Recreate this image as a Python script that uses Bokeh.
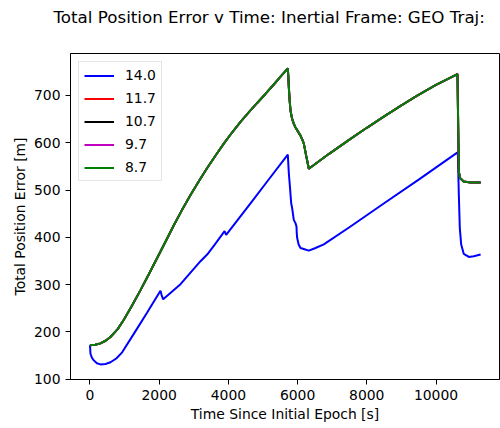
from bokeh.plotting import figure
from bokeh.models import Range1d, FixedTicker, Title
from bokeh.embed import file_html
from bokeh.resources import INLINE

# Time samples [s] and total position error [m] for the 14.0 case
t_14_0 = [0, 14, 60, 110, 200, 303, 450, 592, 760, 930, 1266, 1653, 2037, 2070,
          2115, 2616, 3194, 3387, 3600, 3890, 3935, 4639, 5121, 5717, 5747, 5775,
          5815, 5844, 5890, 5939, 5968, 5975, 5988, 6030, 6084, 6200, 6325, 6500,
          6757, 7529, 8500, 9500, 10613, 10630, 10660, 10688, 10728, 10803, 10948,
          11092, 11290]
err_14_0 = [172, 154, 145, 140, 134, 131.5, 132.5, 136, 144, 157, 196, 241, 287, 278,
            269, 301, 349.6, 363.7, 384, 413, 405, 472, 518, 575, 535, 510,
            472, 461, 437, 430, 423, 410, 398.5, 385, 377.5, 375, 372, 377,
            385, 423, 472, 522, 579, 580, 489.5, 419.5, 384.7, 365, 358.7,
            360, 363.7]

# The 11.7, 10.7, 9.7 and 8.7 cases follow the same error history
t_low = [0, 150, 303, 450, 592, 800, 978, 1200, 1460, 1700, 1942, 2200, 2423, 2650,
         2905, 3150, 3387, 3620, 3867, 4100, 4350, 4600, 4832, 5070, 5313, 5500,
         5717, 5732, 5747, 5770, 5795, 5840, 5890, 5940, 6000, 6084, 6140, 6180,
         6250, 6325, 6900, 7529, 8000, 8491, 9000, 9457, 10000, 10621, 10640,
         10660, 10700, 10800, 11000, 11290]
err_low = [172, 173, 176, 181.5, 189.5, 206, 226, 254, 288.5, 322, 356.5, 393.5, 425.5, 456.5,
           489.5, 519, 546.5, 572, 598, 621, 644, 665, 684, 703, 723, 739,
           757, 740, 717, 690, 668, 651, 640, 632, 625, 615, 606, 598,
           572, 545, 576, 608, 631.5, 655, 679, 699.5, 722, 745, 640,
           538, 525, 518, 516, 516]

series_labels = ["14.0", "11.7", "10.7", "9.7", "8.7"]
series_colors = ["#0000ff", "#ff0000", "#000000", "#bf00bf", "#008000"]
series_t = [t_14_0, t_low, t_low, t_low, t_low]
series_err = [err_14_0, err_low, err_low, err_low, err_low]

x_ticks = [0, 2000, 4000, 6000, 8000, 10000]
y_ticks = [100, 200, 300, 400, 500, 600, 700]

FONT = "DejaVu Sans"

p = figure(width=500, height=428, output_backend="svg", toolbar_location=None,
           x_range=Range1d(-563, 11835), y_range=Range1d(99.6, 788.5),
           min_border_left=70, min_border_right=1, min_border_top=51,
           min_border_bottom=49)

p.title = Title(text="Total Position Error v Time: Inertial Frame: GEO Traj:",
                align="left", offset=-17, standoff=8,
                text_font=FONT, text_font_size="16.7px",
                text_font_style="normal", text_color="#000000")

# blank gap between the title and the top of the frame
p.add_layout(Title(text=" ", text_font_size="1px", standoff=20), "above")

for lbl, col, tt, ee in zip(series_labels, series_colors, series_t, series_err):
    p.line(tt, ee, line_color=col, line_width=2, legend_label=lbl)

p.xgrid.visible = False
p.ygrid.visible = False
p.outline_line_color = "#000000"
p.outline_line_width = 1
p.background_fill_color = "white"
p.border_fill_color = "white"

p.xaxis.ticker = FixedTicker(ticks=x_ticks)
p.yaxis.ticker = FixedTicker(ticks=y_ticks)
p.xaxis.axis_label = "Time Since Initial Epoch [s]"
p.yaxis.axis_label = "Total Position Error [m]"

for ax in (p.xaxis[0], p.yaxis[0]):
    ax.axis_line_color = "#000000"
    ax.major_tick_line_color = "#000000"
    ax.major_tick_in = 0
    ax.major_tick_out = 5
    ax.minor_tick_line_color = None
    ax.major_label_standoff = 5
    ax.major_label_text_font = FONT
    ax.major_label_text_font_size = "13.9px"
    ax.major_label_text_color = "#000000"
    ax.axis_label_text_font = FONT
    ax.axis_label_text_font_size = "13.9px"
    ax.axis_label_text_font_style = "normal"
    ax.axis_label_text_color = "#000000"
    ax.axis_label_standoff = 3

leg = p.legend[0]
leg.location = "top_left"
leg.margin = 8
leg.padding = 5
leg.spacing = 7
leg.glyph_width = 30
leg.glyph_height = 15
leg.label_height = 15
leg.label_standoff = 11
leg.label_text_font = FONT
leg.label_text_font_size = "13.9px"
leg.label_text_color = "#000000"
leg.border_line_color = "#cccccc"
leg.border_line_width = 1
leg.background_fill_alpha = 0.8

open("out.html", "w").write(file_html(p, INLINE))
